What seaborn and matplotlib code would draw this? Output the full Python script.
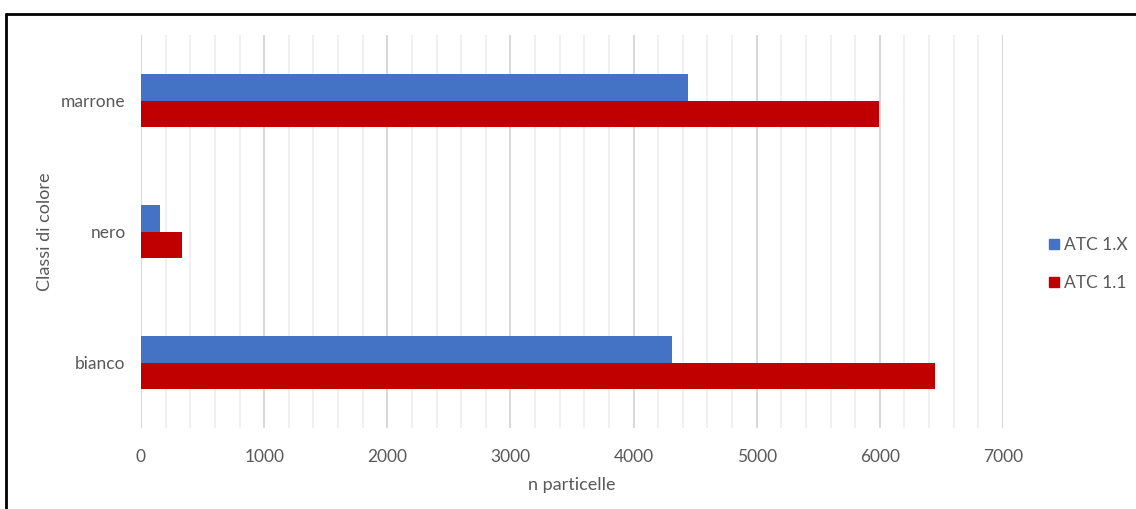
import pandas as pd
import seaborn as sns
import matplotlib.pyplot as plt
from matplotlib.lines import Line2D
from matplotlib.ticker import MultipleLocator

categories = ['marrone', 'nero', 'bianco']
series = ['ATC 1.X', 'ATC 1.1']
atc_1x = [4440, 157, 4315]
atc_11 = [5990, 336, 6450]
colors = ['#4472C4', '#C00000']

df = pd.DataFrame({
    'Classi di colore': categories * 2,
    'n particelle': atc_1x + atc_11,
    'serie': [series[0]] * 3 + [series[1]] * 3,
})

sns.set_style('white')
plt.rcParams['font.family'] = ['Lato', 'DejaVu Sans']

fig = plt.figure(figsize=(11.36, 5.09), dpi=100)
ax = fig.add_axes([141 / 1136, 1 - 428 / 509, 862 / 1136, 393 / 509])

sns.barplot(data=df, y='Classi di colore', x='n particelle', hue='serie',
            order=categories, hue_order=series, palette=colors,
            orient='h', width=0.4, linewidth=0, saturation=1, ax=ax,
            legend=False)

ax.set_xlim(0, 7000)
ax.set_ylim(2.5, -0.5)
ax.xaxis.set_major_locator(MultipleLocator(1000))
ax.xaxis.set_minor_locator(MultipleLocator(200))
ax.grid(axis='x', which='major', color='#D9D9D9', linewidth=1.5, zorder=0)
ax.grid(axis='x', which='minor', color='#EDEDED', linewidth=1.2, zorder=0)
ax.set_axisbelow(True)
for s in ax.spines.values():
    s.set_visible(False)
ax.tick_params(axis='both', length=0, labelsize=12.5, colors='#595959')
ax.tick_params(axis='x', pad=15)
ax.tick_params(axis='y', pad=11)
ax.set_xlabel('n particelle', fontsize=13, color='#595959', labelpad=9)
ax.set_ylabel('Classi di colore', fontsize=13, color='#595959', labelpad=6)

handles = [Line2D([], [], marker='s', linestyle='none', markersize=7,
                  markerfacecolor=c, markeredgecolor=c) for c in colors]
fig.legend(handles, series, loc='center left', bbox_to_anchor=(1028 / 1136, 1 - 264 / 509),
           frameon=False, fontsize=12.5, labelcolor='#595959', handletextpad=0.0,
           handlelength=1.2, labelspacing=1.25)

# outer frame (left and top edges visible in the reference)
fig.add_artist(Line2D([6 / 1136, 6 / 1136], [0, 1 - 14 / 509], transform=fig.transFigure,
                      color='black', linewidth=2))
fig.add_artist(Line2D([6 / 1136, 1], [1 - 14 / 509, 1 - 14 / 509], transform=fig.transFigure,
                      color='black', linewidth=2))

fig.savefig('out.png', dpi=100)
